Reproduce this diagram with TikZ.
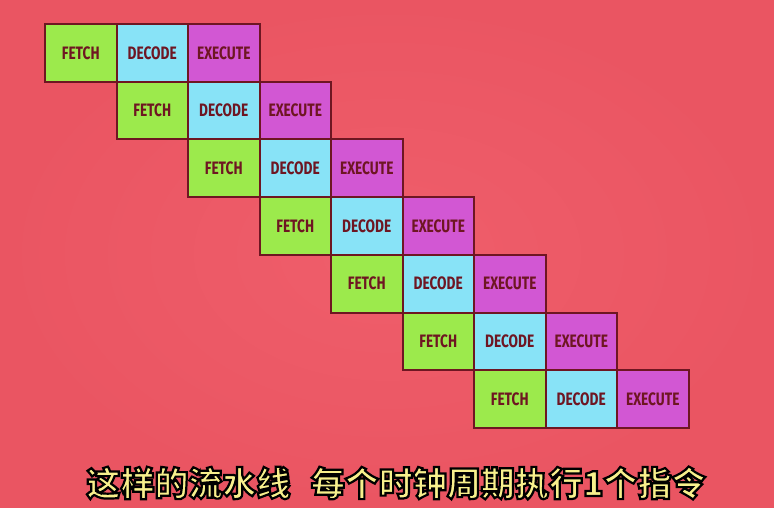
\documentclass[tikz,border=0pt]{standalone}
\usepackage{fontspec}
\usetikzlibrary{positioning}
\newfontfamily\stagefont[FakeStretch=0.76]{Fira Sans}
\newfontfamily\capfont{Noto Sans CJK SC}
\definecolor{bgred}{HTML}{EA5562}
\definecolor{bglight}{HTML}{EF5E6B}
\definecolor{edge}{HTML}{6E1622}
\definecolor{fetchgreen}{HTML}{9CEA4C}
\definecolor{decodecyan}{HTML}{88E3F7}
\definecolor{execmagenta}{HTML}{D257D3}
\definecolor{capyellow}{HTML}{F8F08C}
% outlined caption text (stroke + fill)
\newcommand{\outlined}[1]{\special{pdf:literal direct 2 Tr 2.2 w 0 0 0 RG}#1\special{pdf:literal direct 0 Tr}}

\begin{document}
\begin{tikzpicture}[x=1pt, y=-1pt, node distance=0pt,
        stage/.style = {draw=edge, line width=2pt, outer sep=0pt, inner sep=0pt,
                        minimum width=71.5pt, minimum height=57.7pt, text=edge,
                        font=\stagefont\bfseries\fontsize{18}{18}\selectfont},
        fetch/.style = {stage, fill=fetchgreen},
       decode/.style = {stage, fill=decodecyan},
      execute/.style = {stage, fill=execmagenta},
]
\shade[inner color=bglight, outer color=bgred] (0,0) rectangle (774,507);
\useasboundingbox (0,0) rectangle (774,507);
%% one row per instruction, shifted one stage each time
\foreach \i in {0,...,6} {
  \node [fetch, anchor=north west] (f\i) at ({45+71.5*\i},{24+57.7*\i}) {FETCH};
  \node [decode, right=of f\i]     (d\i) {DECODE};
  \node [execute, right=of d\i]    (e\i) {EXECUTE};
}
\node [text=capyellow] (caption) at (396,483)
  {\capfont\bfseries\fontsize{34}{34}\selectfont
   \outlined{这样的流水线\hspace{0.6em}每个时钟周期执行1个指令}};
\end{tikzpicture}
\end{document}
